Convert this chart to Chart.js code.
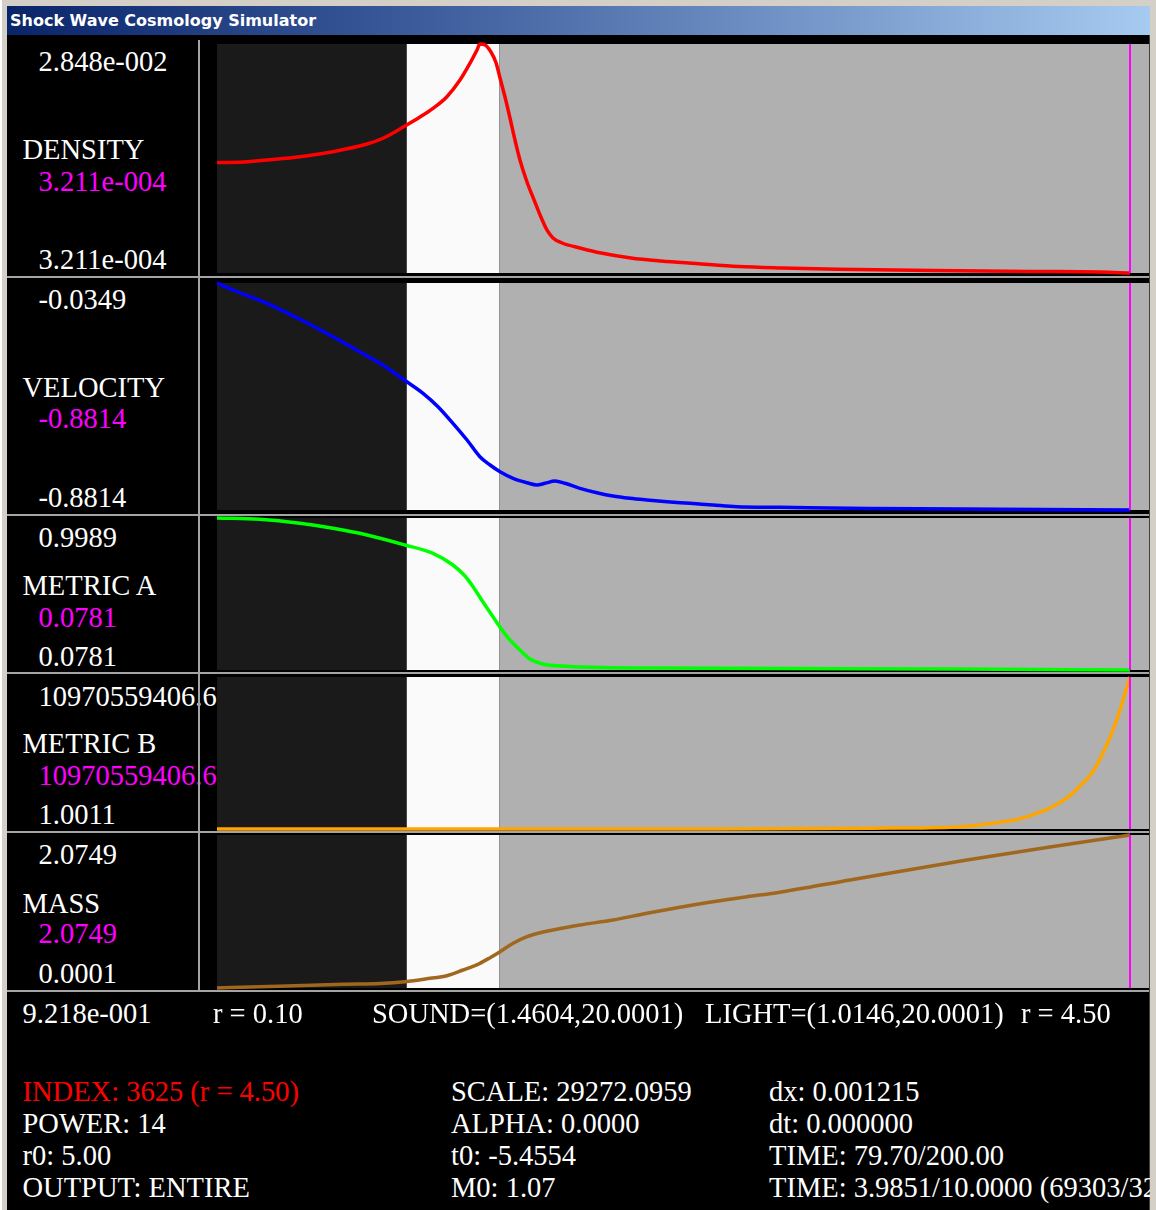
<!DOCTYPE html>
<html>
<head>
<meta charset="utf-8">
<script src="https://cdn.jsdelivr.net/npm/chart.js@4/dist/chart.umd.min.js"></script>
<style>
html,body{margin:0;padding:0;width:1156px;height:1210px;overflow:hidden;background:#d4d0c8;}
#stage{position:absolute;left:0;top:0;width:1150px;height:1210px;overflow:hidden;}
#edgeL{position:absolute;left:0;top:0;width:2px;height:1210px;background:#ffffff;}
#titlebar{position:absolute;left:7px;top:6px;width:1143px;height:29px;background:linear-gradient(to right,#0a246a 0%,#3a5a9a 35%,#a6caf0 100%);}
#title{position:absolute;left:10px;top:13px;color:#fff;font:bold 16px/16px "DejaVu Sans",sans-serif;white-space:pre;}
#content{position:absolute;left:7px;top:35px;width:1143px;height:1175px;background:#000;}
#edgeR{position:absolute;left:1149px;top:35px;width:1px;height:1175px;background:#404040;}
.sep{position:absolute;background:#a4a4a4;}
.t{position:absolute;font-family:"Liberation Serif","Times New Roman",serif;font-size:28.5px;line-height:28.5px;color:#fff;white-space:pre;}
canvas{position:absolute;}
</style>
</head>
<body>
<div id="stage">
  <div id="edgeL"></div>
  <div id="titlebar"></div>
  <div id="title">Shock Wave Cosmology Simulator</div>
  <div id="content"></div>
  <div id="edgeR"></div>
</div>
<script>
// ---------- DATA ----------
const X_MIN = 0.10, X_MAX = 4.5916;
const LIGHT_R = 1.0146, SOUND_R = 1.4604, CURSOR_R = 4.50;

const panelNames   = ['DENSITY', 'VELOCITY', 'METRIC A', 'METRIC B', 'MASS'];
const maxLabels    = ['2.848e-002', '-0.0349', '0.9989', '10970559406.6', '2.0749'];
const cursorLabels = ['3.211e-004', '-0.8814', '0.0781', '10970559406.6', '2.0749'];
const minLabels    = ['3.211e-004', '-0.8814', '0.0781', '1.0011', '0.0001'];
const yMins = [3.211e-4, -0.8814, 0.0781, 1.0011, 0.0001];
const yMaxs = [2.848e-2, -0.0349, 0.9989, 10970559406.6, 2.0749];
const lineColors = ['#ff0000', '#0000ff', '#00ff00', '#ffa500', '#a0681e'];

const rDensity = [0.100,0.211,0.341,0.500,0.659,0.823,0.900,1.006,1.078,1.141,1.208,1.271,1.319,1.353,1.367,1.392,1.420,1.445,1.464,1.488,1.512,1.536,1.560,1.594,1.628,1.657,1.690,1.719,1.763,1.849,1.951,2.095,2.240,2.408,2.616,2.823,3.093,3.551,4.018,4.355,4.500];
const density  = [0.01391,0.01393,0.01422,0.01462,0.01524,0.01618,0.01689,0.01840,0.01950,0.02057,0.02200,0.02405,0.02611,0.02774,0.02848,0.02836,0.02750,0.02615,0.02430,0.02196,0.01938,0.01668,0.01422,0.01151,0.00930,0.00745,0.00561,0.00463,0.00401,0.00340,0.00278,0.00217,0.00180,0.00149,0.00112,0.00094,0.00078,0.00063,0.00051,0.00044,0.0003211];

const rVelocity = [0.100,0.177,0.341,0.500,0.659,0.823,0.886,1.006,1.093,1.165,1.237,1.305,1.367,1.416,1.464,1.527,1.594,1.642,1.681,1.729,1.777,1.849,1.931,2.008,2.090,2.172,2.269,2.380,2.490,2.606,2.813,3.247,3.873,4.500];
const velocity  = [-0.0349,-0.0610,-0.1106,-0.1703,-0.2352,-0.3071,-0.3344,-0.3985,-0.4462,-0.4962,-0.5581,-0.6204,-0.6826,-0.7136,-0.7386,-0.7632,-0.7796,-0.7882,-0.7818,-0.7733,-0.7818,-0.8005,-0.8169,-0.8292,-0.8378,-0.8441,-0.8505,-0.8564,-0.8628,-0.8691,-0.8714,-0.8758,-0.8788,-0.8814];

const rMetricA = [0.100,0.307,0.500,0.659,0.823,1.006,1.141,1.237,1.295,1.334,1.382,1.430,1.498,1.560,1.608,1.681,1.753,2.187,3.681,4.500];
const metricA  = [0.9989,0.9910,0.9668,0.9365,0.8959,0.8353,0.7851,0.7142,0.6475,0.5827,0.4900,0.4010,0.2798,0.1993,0.1447,0.1114,0.1023,0.0902,0.0842,0.0781];

const rMetricB = [0.100,1.460,2.500,3.257,3.671,3.792,3.873,3.955,4.033,4.114,4.196,4.273,4.322,4.370,4.418,4.452,4.476,4.500];
const metricB  = [1.0011,2.5,1.2e6,6.0e7,1.5e8,3.24e8,4.89e8,6.83e8,1.043e9,1.525e9,2.244e9,3.323e9,4.158e9,5.482e9,7.158e9,8.596e9,9.798e9,10970559406.6];

const rMass = [0.100,0.307,0.712,0.886,1.006,1.127,1.208,1.286,1.367,1.416,1.464,1.527,1.594,1.657,1.719,1.849,2.008,2.172,2.331,2.490,2.654,2.799,3.151,3.714,4.114,4.500];
const mass  = [0.0001,0.0177,0.0503,0.0611,0.0855,0.1316,0.1669,0.2442,0.3351,0.4110,0.4924,0.6063,0.6958,0.7500,0.7866,0.8544,0.9223,1.0131,1.0945,1.1704,1.2382,1.2925,1.4647,1.7359,1.9122,2.0749];

const axisRow  = ['9.218e-001', 'r = 0.10', 'SOUND=(1.4604,20.0001)', 'LIGHT=(1.0146,20.0001)', 'r = 4.50'];
const infoCol1 = ['INDEX: 3625 (r = 4.50)', 'POWER: 14', 'r0: 5.00', 'OUTPUT: ENTIRE'];
const infoCol2 = ['SCALE: 29272.0959', 'ALPHA: 0.0000', 't0: -5.4554', 'M0: 1.07'];
const infoCol3 = ['dx: 0.001215', 'dt: 0.000000', 'TIME: 79.70/200.00', 'TIME: 3.9851/10.0000 (69303/32'];

const seriesR = [rDensity, rVelocity, rMetricA, rMetricB, rMass];
const seriesV = [density, velocity, metricA, metricB, mass];

// ---------- LAYOUT ----------
const stage = document.getElementById('stage');
const PLOT_L = 217, PLOT_R = 1149, PAD = 4;
const panelTops = [44, 283, 518, 677, 835];
const panelHeights = [229, 227, 152, 152, 153];
const labelBaselines = [
  [72, 160, 192, 270],
  [310, 397.5, 429, 508],
  [547.5, 596, 627.5, 667],
  [707, 754, 786, 825],
  [865, 913.5, 944, 983.5]
];
const BASE_OFF = 23.9;

function addText(x, baseline, str, color) {
  const d = document.createElement('div');
  d.className = 't';
  d.style.left = x + 'px';
  d.style.top = (baseline - BASE_OFF) + 'px';
  if (color) d.style.color = color;
  d.textContent = str;
  stage.appendChild(d);
  return d;
}
function addSep(x, y, w, h) {
  const d = document.createElement('div');
  d.className = 'sep';
  d.style.left = x + 'px'; d.style.top = y + 'px';
  d.style.width = w + 'px'; d.style.height = h + 'px';
  stage.appendChild(d);
  return d;
}

const bandPlugin = {
  id: 'bands',
  beforeDatasetsDraw(chart) {
    const { ctx, chartArea: a, scales: { x } } = chart;
    const xl = x.getPixelForValue(LIGHT_R), xs = x.getPixelForValue(SOUND_R);
    const h = a.bottom - a.top;
    ctx.save();
    ctx.fillStyle = '#1a1a1a'; ctx.fillRect(a.left, a.top, xl - a.left, h);
    ctx.fillStyle = '#fafafa'; ctx.fillRect(xl, a.top, xs - xl, h);
    ctx.fillStyle = '#b0b0b0'; ctx.fillRect(xs, a.top, a.right - xs, h);
    ctx.restore();
  },
  afterDatasetsDraw(chart) {
    const { ctx, chartArea: a, scales: { x } } = chart;
    const xc = Math.round(x.getPixelForValue(CURSOR_R));
    ctx.save();
    ctx.fillStyle = '#ff00ff';
    ctx.fillRect(xc - 1, a.top, 2, a.bottom - a.top);
    ctx.restore();
  }
};

for (let i = 0; i < 5; i++) {
  const lb = labelBaselines[i];
  addText(38.5, lb[0], maxLabels[i]);
  addText(22.5, lb[1], panelNames[i]);
  addText(38.5, lb[2], cursorLabels[i], '#ff00ff');
  addText(38.5, lb[3], minLabels[i]);

  const cv = document.createElement('canvas');
  const w = (PLOT_R - PLOT_L) + 2 * PAD, h = panelHeights[i] + 2 * PAD;
  cv.width = w; cv.height = h;
  cv.style.left = (PLOT_L - PAD) + 'px';
  cv.style.top = (panelTops[i] - PAD) + 'px';
  cv.style.width = w + 'px'; cv.style.height = h + 'px';
  stage.appendChild(cv);
  const pts = seriesR[i].map((r, k) => ({ x: r, y: seriesV[i][k] }));
  new Chart(cv.getContext('2d'), {
    type: 'line',
    data: { datasets: [{ data: pts, borderColor: lineColors[i], borderWidth: 3.5, pointRadius: 0, cubicInterpolationMode: 'monotone', fill: false, clip: PAD, borderJoinStyle: 'round' }] },
    options: {
      responsive: false, animation: false, devicePixelRatio: 1,
      layout: { padding: PAD },
      events: [],
      scales: {
        x: { type: 'linear', min: X_MIN, max: X_MAX, display: false },
        y: { type: 'linear', min: yMins[i], max: yMaxs[i], display: false }
      },
      plugins: { legend: { display: false }, tooltip: { enabled: false }, title: { display: false } }
    },
    plugins: [bandPlugin]
  });
}

[276, 513.5, 672, 831, 990].forEach(y => addSep(7, y, 1142, 2));
addSep(198, 40, 2, 951);

const row1X = [22.5, 213, 372, 705, 1021];
axisRow.forEach((s, k) => addText(row1X[k], 1024, s));
const rowB = [1102, 1134, 1166, 1198];
infoCol1.forEach((s, k) => addText(22.5, rowB[k], s, k === 0 ? '#ff0000' : null));
infoCol2.forEach((s, k) => addText(451, rowB[k], s));
infoCol3.forEach((s, k) => addText(769, rowB[k], s));
</script>
</body>
</html>
